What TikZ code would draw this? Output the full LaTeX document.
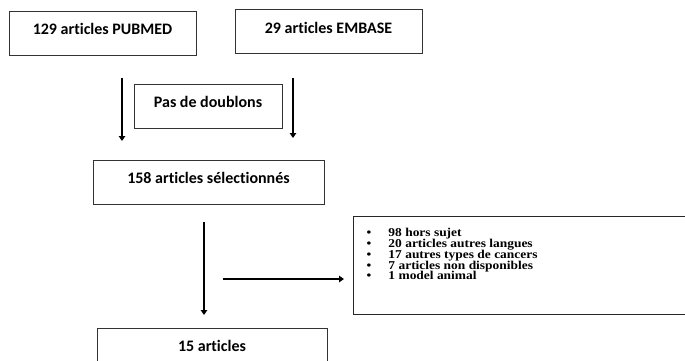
\documentclass[tikz,border=0pt]{standalone}
\usepackage{fontspec}
\setmainfont{Carlito}[Ligatures=NoCommon]
\newfontfamily\tnr[FakeStretch=1.12]{Liberation Serif}
\usetikzlibrary{arrows.meta}
\newcommand\lstitem[1]{\hspace*{13pt}\makebox[22pt][l]{\textbullet}#1}
\begin{document}
\begin{tikzpicture}[x=1pt,y=-1pt,
  box/.style={draw=black!80, line width=0.9pt, minimum height=44pt, inner sep=0pt,
    text height=11pt, text depth=8pt, font=\bfseries\fontsize{16}{18}\selectfont},
  arr/.style={line width=2.4pt, -{Triangle[length=5pt,width=6.5pt]}},
  listfont/.style={font=\tnr\bfseries\fontsize{12pt}{10.9pt}\selectfont}]
\useasboundingbox (0,0) rectangle (685,360);
\node[box, minimum width=187pt] (pubmed) at (102.5,33) {129 articles PUBMED};
\node[box, minimum width=187pt] (embase) at (328.5,31.7) {29 articles EMBASE};
\node[box, minimum width=148pt] (doub) at (208,106) {Pas de doublons};
\node[box, minimum width=231pt] (sel) at (208.5,182) {158 articles sélectionnés};
\node[box, minimum width=230pt] (fin) at (212,350) {15 articles};
\node[draw=black!85, line width=1pt, inner sep=0pt, anchor=north west, listfont] (excl) at (353,216)
 {\begin{minipage}[t][98pt][t]{337pt}%
  \setlength\lineskiplimit{-20pt}\setlength\baselineskip{10.9pt}%
  \vspace*{11.5pt}%
  \noindent\lstitem{98 hors sujet}\\
  \lstitem{20 articles autres langues}\\
  \lstitem{17 autres types de cancers}\\
  \lstitem{7 articles non disponibles}\\
  \lstitem{1 model animal}\par
  \end{minipage}};
\coordinate (a1) at (122,78);
\coordinate (a1e) at (122,141);
\coordinate (a2) at (293,78);
\coordinate (a2e) at (293,138);
\coordinate (a3) at (204,222);
\coordinate (a3e) at (204,315);
\coordinate (a4) at (223,279);
\coordinate (a4e) at (344,279);
\draw[arr] (a1) -- (a1e);
\draw[arr] (a2) -- (a2e);
\draw[arr] (a3) -- (a3e);
\draw[arr] (a4) -- (a4e);
\end{tikzpicture}
\end{document}
